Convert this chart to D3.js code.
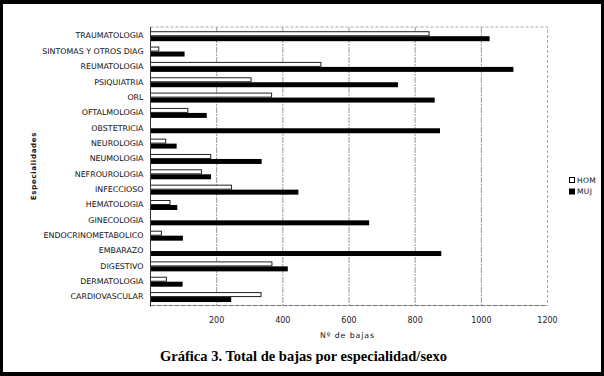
<!DOCTYPE html>
<html><head><meta charset="utf-8">
<script src="https://cdn.jsdelivr.net/npm/d3@7/dist/d3.min.js"></script>
<style>html,body{margin:0;padding:0;background:#fff;}</style>
</head><body>
<script>
const categories = ["TRAUMATOLOGIA","SINTOMAS Y OTROS DIAG","REUMATOLOGIA","PSIQUIATRIA","ORL","OFTALMOLOGIA","OBSTETRICIA","NEUROLOGIA","NEUMOLOGIA","NEFROUROLOGIA","INFECCIOSO","HEMATOLOGIA","GINECOLOGIA","ENDOCRINOMETABOLICO","EMBARAZO","DIGESTIVO","DERMATOLOGIA","CARDIOVASCULAR"];
const hom = [842, 25, 515, 304, 366, 113, 0, 46, 182, 154, 245, 59, 0, 33, 0, 367, 48, 334];
const muj = [1025, 103, 1097, 748, 859, 170, 875, 79, 336, 183, 447, 81, 661, 98, 879, 415, 97, 244];
const seriesNames = ["HOM", "MUJ"];
const xTicks = [200, 400, 600, 800, 1000, 1200];
const titleText = "Gráfica 3. Total de bajas por especialidad/sexo";
const xLabel = "Nº de bajas";
const yLabel = "Especialidades";

const W = 604, H = 376;
const svg = d3.select("body").append("svg").attr("width", W).attr("height", H);
svg.append("rect").attr("x",0).attr("y",0).attr("width",W).attr("height",H).attr("fill","#000");
svg.append("rect").attr("x",3).attr("y",4).attr("width",W-6).attr("height",H-8).attr("fill","#fff");

const plot = {l:150.5, r:547.5, t:27, b:305.5};
const x = d3.scaleLinear().domain([0,1200]).range([plot.l, plot.r]);
const y = d3.scaleBand().domain(categories).range([plot.t, plot.b]).paddingInner(0.35).paddingOuter(0.25).align(0.55);
const ySub = d3.scaleBand().domain(seriesNames).range([0, y.bandwidth()]);

// gridlines
svg.append("g").selectAll("line").data(xTicks.slice(0,-1)).join("line")
  .attr("x1", d=>x(d)).attr("x2", d=>x(d)).attr("y1", plot.t).attr("y2", plot.b)
  .attr("stroke","#9a9a9a").attr("stroke-width",1).attr("stroke-dasharray","6,1,2,1");
// border
svg.append("path").attr("d", `M${plot.l},${plot.t}H${plot.r}V${plot.b}`)
  .attr("fill","none").attr("stroke","#aaa").attr("stroke-dasharray","3,2");
svg.append("line").attr("x1",plot.l).attr("x2",plot.r).attr("y1",plot.b).attr("y2",plot.b)
  .attr("stroke","#777").attr("stroke-dasharray","5,1");

const data = categories.map((c,i)=>({c, vals:[{s:"HOM",v:hom[i]},{s:"MUJ",v:muj[i]}]}));
const g = svg.append("g").selectAll("g").data(data).join("g")
  .attr("transform", d=>`translate(0,${y(d.c)})`);
g.selectAll("rect").data(d=>d.vals.filter(e=>e.v>0)).join("rect")
  .attr("x", x(0)).attr("y", e=>ySub(e.s) + (e.s==="HOM"?0.5:0))
  .attr("width", e=>x(e.v)-x(0)).attr("height", e=>ySub.bandwidth() - (e.s==="HOM"?1:0))
  .attr("fill", e=>e.s==="HOM"?"#fff":"#000")
  .attr("stroke", e=>e.s==="HOM"?"#222":"none").attr("stroke-width",1);

// left axis line
svg.append("line").attr("x1",plot.l).attr("x2",plot.l).attr("y1",plot.t).attr("y2",plot.b+1)
  .attr("stroke","#333").attr("stroke-width",1);

// y labels
svg.append("g").selectAll("text").data(categories).join("text")
  .attr("x", 143.5).attr("y", d=>y(d)+y.bandwidth()/2 - 0.5).attr("dy","0.35em")
  .attr("text-anchor","end").attr("font-family","DejaVu Sans").attr("font-size",7.9)
  .attr("fill","#111").text(d=>d);

// x tick labels
svg.append("g").selectAll("text").data(xTicks).join("text")
  .attr("x", d=>x(d)).attr("y", 320).attr("dy","0.35em").attr("text-anchor","middle")
  .attr("font-family","DejaVu Sans").attr("font-size",8).attr("fill","#222").text(d=>d);

svg.append("text").attr("x",347.5).attr("y",335).attr("dy","0.35em").attr("text-anchor","middle")
  .attr("font-family","DejaVu Sans").attr("font-size",7.8).attr("letter-spacing",0.9)
  .attr("fill","#111").text(xLabel);

svg.append("text").attr("transform","translate(34,166) rotate(-90)").attr("dy","0.35em")
  .attr("text-anchor","middle").attr("font-family","DejaVu Sans").attr("font-weight","bold")
  .attr("font-size",7).attr("letter-spacing",0.7).attr("fill","#111").text(yLabel);

// legend
const lg = svg.append("g").selectAll("g").data(seriesNames).join("g")
  .attr("transform",(d,i)=>`translate(569,${180+i*11.5})`);
lg.append("rect").attr("x",0.5).attr("y",-2.5).attr("width",5).attr("height",5)
  .attr("fill",d=>d==="HOM"?"#fff":"#000").attr("stroke","#000").attr("stroke-width",1);
lg.append("text").attr("x",8).attr("y",0).attr("dy","0.35em").attr("font-family","DejaVu Sans")
  .attr("font-size",7.5).attr("letter-spacing",0.4).attr("fill","#111").text(d=>d);

svg.append("text").attr("x",303.5).attr("y",356).attr("dy","0.35em").attr("text-anchor","middle")
  .attr("font-family","Liberation Serif").attr("font-weight","bold").attr("font-size",14.5)
  .attr("fill","#000").text(titleText);
</script>
</body></html>
